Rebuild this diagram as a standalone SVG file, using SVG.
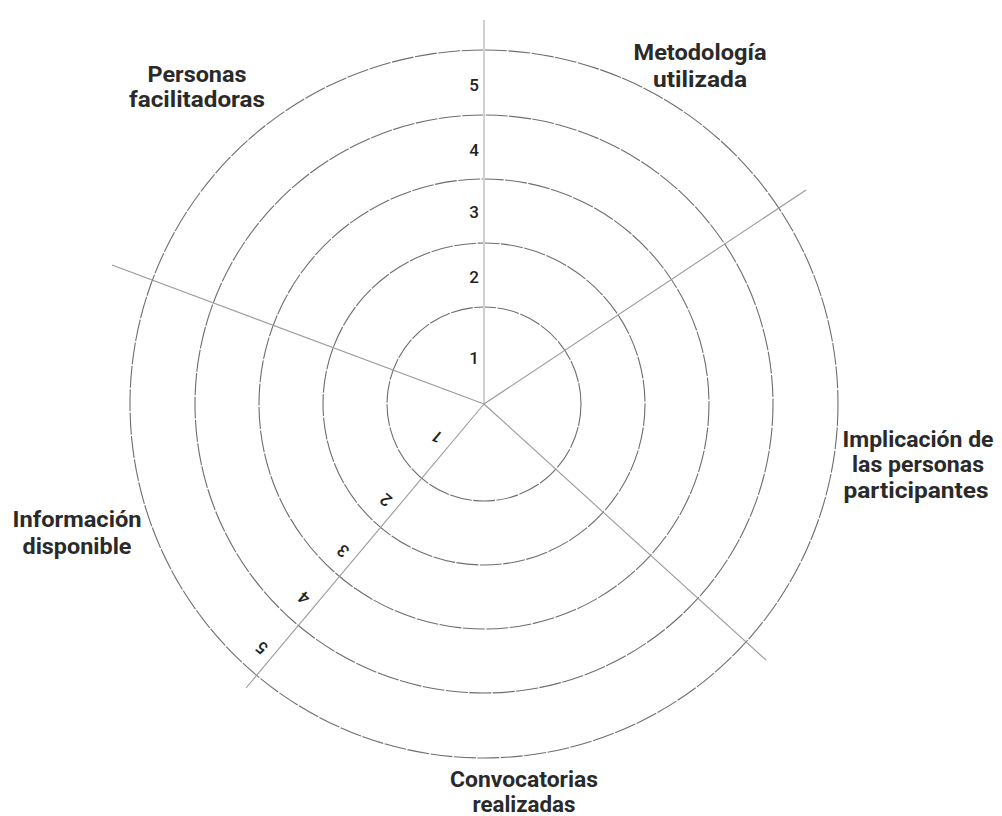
<svg xmlns="http://www.w3.org/2000/svg" width="1002" height="816" viewBox="0 0 1002 816">
<style>
.ring{fill:none;stroke:#6e6e6e;stroke-width:1.1;stroke-dasharray:22 1.5}
.axis{stroke:#9a9a9a;stroke-width:1.1;fill:none}
.vaxis{stroke:#d0d0d0;stroke-width:2;fill:none}
.lbl{font-family:Roboto,"Liberation Sans",sans-serif;font-weight:700;font-size:22px;fill:#2a2a2a;text-anchor:middle}
.num{font-family:Roboto,"Liberation Sans",sans-serif;font-weight:500;font-size:17px;fill:#222;text-anchor:middle;dominant-baseline:central}
</style>
<rect width="1002" height="816" fill="#fff"/>
<g id="rings">
<circle class="ring" cx="484" cy="404" r="97"/>
<circle class="ring" cx="484" cy="404" r="161"/>
<circle class="ring" cx="484" cy="404" r="225"/>
<circle class="ring" cx="484" cy="404" r="289"/>
<circle class="ring" cx="484" cy="404" r="354"/>
</g>
<g id="connectors">
<line class="vaxis" x1="484" y1="404" x2="484" y2="20"/>
<line class="axis" x1="484" y1="404" x2="806" y2="190"/>
<line class="axis" x1="484" y1="404" x2="766" y2="660"/>
<line class="axis" x1="484" y1="404" x2="246" y2="688"/>
<line class="axis" x1="484" y1="404" x2="112" y2="265"/>
</g>
<g id="scale-vertical">
<text class="num" x="474" y="358">1</text>
<text class="num" x="474" y="277">2</text>
<text class="num" x="474" y="212">3</text>
<text class="num" x="474" y="150">4</text>
<text class="num" x="474" y="85">5</text>
</g>
<g id="scale-diagonal">
<text class="num" transform="translate(437,437) rotate(220)">1</text>
<text class="num" transform="translate(386,500) rotate(220)">2</text>
<text class="num" transform="translate(343,551) rotate(220)">3</text>
<text class="num" transform="translate(304,598) rotate(220)">4</text>
<text class="num" transform="translate(262,648) rotate(220)">5</text>
</g>
<g id="node-personas">
<text class="lbl" x="197" y="82" textLength="99" lengthAdjust="spacingAndGlyphs">Personas</text>
<text class="lbl" x="197" y="107" textLength="136" lengthAdjust="spacingAndGlyphs">facilitadoras</text>
</g>
<g id="node-metodologia">
<text class="lbl" x="700" y="60" textLength="133" lengthAdjust="spacingAndGlyphs">Metodología</text>
<text class="lbl" x="700" y="87" textLength="94" lengthAdjust="spacingAndGlyphs">utilizada</text>
</g>
<g id="node-implicacion">
<text class="lbl" x="918" y="447" textLength="151" lengthAdjust="spacingAndGlyphs">Implicación de</text>
<text class="lbl" x="918" y="472" textLength="132" lengthAdjust="spacingAndGlyphs">las personas</text>
<text class="lbl" x="916" y="498" textLength="145" lengthAdjust="spacingAndGlyphs">participantes</text>
</g>
<g id="node-informacion">
<text class="lbl" x="77" y="527" textLength="129" lengthAdjust="spacingAndGlyphs">Información</text>
<text class="lbl" x="77" y="554" textLength="109" lengthAdjust="spacingAndGlyphs">disponible</text>
</g>
<g id="node-convocatorias">
<text class="lbl" x="524" y="787" textLength="148" lengthAdjust="spacingAndGlyphs">Convocatorias</text>
<text class="lbl" x="524" y="812" textLength="103" lengthAdjust="spacingAndGlyphs">realizadas</text>
</g>
</svg>
